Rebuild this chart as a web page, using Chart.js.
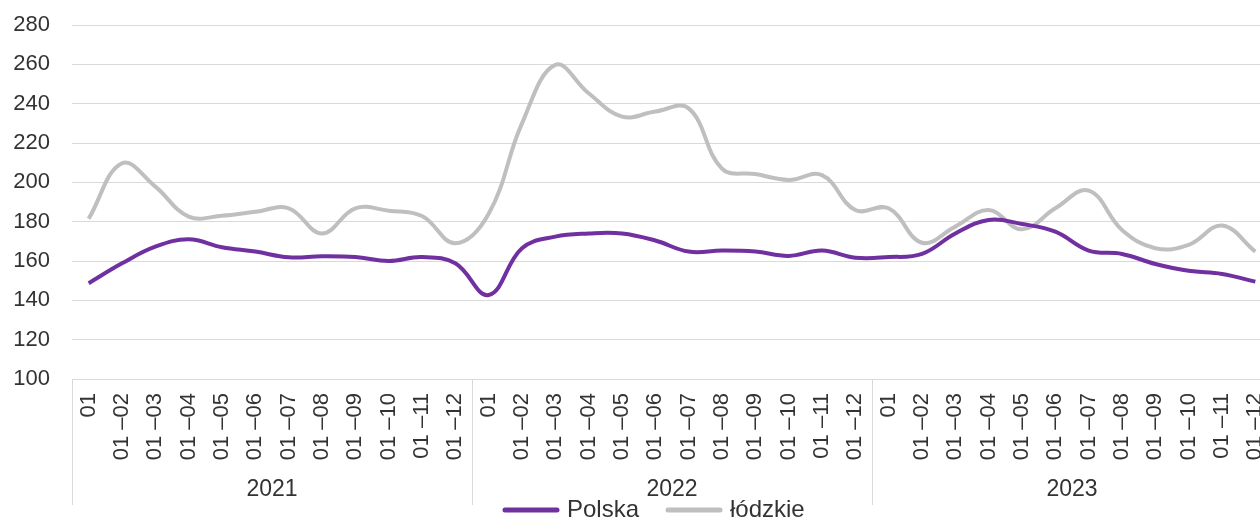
<!DOCTYPE html>
<html>
<head>
<meta charset="utf-8">
<script src="https://cdn.jsdelivr.net/npm/chart.js@4.4.0/dist/chart.umd.min.js"></script>
<style>
  html, body { margin: 0; padding: 0; background: #fff; overflow: hidden; }
  #wrap { position: relative; width: 1290px; height: 519px; }
</style>
</head>
<body>
<div id="wrap"><canvas id="myChart"></canvas></div>
<script>
// dane
const years = ['2021', '2022', '2023'];
const months = ['01', '01 –02', '01 –03', '01 –04', '01 –05', '01 –06', '01 –07', '01 –08', '01 –09', '01 –10', '01 –11', '01 –12'];
const polska = [
  148.7, 158.8, 167.3, 171, 167, 164.8, 161.9, 162.4, 162, 160, 162, 158.8,
  142.7, 166.5, 172.4, 174, 174, 170.4, 164.8, 165.3, 164.8, 162.6, 165.3, 161.7,
  162, 163.6, 174, 180.9, 178.8, 174.9, 165.3, 163.6, 158.5, 155, 153.4, 149.5
];
const lodzkie = [
  181.5, 209.7, 197.8, 182.6, 183, 185, 186.8, 174, 186.8, 185.6, 182.9, 169,
  184, 230, 259.7, 245.3, 233.4, 236, 237.6, 207, 204.2, 201.2, 203.7, 185.9,
  186.8, 169.3, 177.5, 185.9, 176.1, 186.8, 195.8, 175.8, 166.5, 168.2, 178, 164.8
];
const yTicks = [100, 120, 140, 160, 180, 200, 220, 240, 260, 280];

const PURPLE = '#7030a0';
const GREY = '#bfbfbf';
const TXT = '#333333';
const NARROW = '"Liberation Sans Narrow", "Liberation Sans", sans-serif';

var labels = [];
years.forEach(() => months.forEach(m => labels.push(m)));

// rok + separatory + legenda
const extras = {
    id: 'extras',
    afterDraw(chart) {
        var ctx = chart.ctx;
        var xs = chart.scales.x;
        var area = chart.chartArea;
        var step = xs.getPixelForValue(1) - xs.getPixelForValue(0);
        ctx.save();
        ctx.strokeStyle = '#d9d9d9';
        ctx.lineWidth = 1;
        years.forEach((y, g) => {
            var left = xs.getPixelForValue(g * 12) - step / 2;
            var right = xs.getPixelForValue(g * 12 + 11) + step / 2;
            ctx.beginPath();
            ctx.moveTo(Math.round(left) + 0.5, area.bottom);
            ctx.lineTo(Math.round(left) + 0.5, 505);
            ctx.stroke();
            ctx.fillStyle = TXT;
            ctx.font = '23px ' + NARROW;
            ctx.textAlign = 'center';
            ctx.textBaseline = 'middle';
            ctx.fillText(y, (left + right) / 2, 490);
        });

        // legenda
        var items = [
            { text: 'Polska', color: PURPLE, x: 505 },
            { text: 'łódzkie', color: GREY, x: 668 }
        ];
        ctx.font = '24px "Liberation Sans", sans-serif';
        ctx.textAlign = 'left';
        ctx.textBaseline = 'middle';
        ctx.lineWidth = 5;
        ctx.lineCap = 'round';
        items.forEach(it => {
            ctx.strokeStyle = it.color;
            ctx.beginPath();
            ctx.moveTo(it.x, 510);
            ctx.lineTo(it.x + 52, 510);
            ctx.stroke();
            ctx.fillStyle = TXT;
            ctx.fillText(it.text, it.x + 62, 510);
        });
        ctx.restore();
    }
};

const config = {
    type: 'line',
    data: {
        labels: labels,
        datasets: [
            {
                label: 'Polska',
                data: polska,
                borderColor: PURPLE,
                borderWidth: 4,
                pointRadius: 0,
                tension: 0.4,
                fill: false,
            },
            {
                label: 'łódzkie',
                data: lodzkie,
                borderColor: GREY,
                borderWidth: 4,
                pointRadius: 0,
                tension: 0.4,
                fill: false,
            }
        ]
    },
    plugins: [extras],
    options: {
        responsive: true,
        maintainAspectRatio: false,
        animation: false,
        layout: { padding: { top: 25, right: 18, bottom: 0, left: 0 } },
        plugins: {
            legend: { display: false },
            tooltip: { enabled: false }
        },
        scales: {
            x: {
                offset: true,
                grid: { display: false },
                border: { display: false },
                ticks: {
                    autoSkip: false,
                    minRotation: 90,
                    maxRotation: 90,
                    padding: 6,
                    color: TXT,
                    font: { family: NARROW, size: 22 }
                },
                afterFit: function (scale) { scale.height = 140; }
            },
            y: {
                min: 100,
                max: 280,
                afterBuildTicks: function (scale) {
                    scale.ticks = yTicks.map(v => ({ value: v }));
                },
                grid: {
                    color: '#d9d9d9',
                    lineWidth: 1,
                    drawTicks: true,
                    tickLength: 22,
                    tickColor: 'rgba(0,0,0,0)'
                },
                border: { display: false },
                ticks: {
                    padding: 0,
                    color: TXT,
                    font: { family: '"Liberation Sans", sans-serif', size: 22 }
                },
                afterFit: function (scale) { scale.width = 72; }
            }
        }
    }
};
new Chart(document.getElementById('myChart'), config);
</script>
</body>
</html>
